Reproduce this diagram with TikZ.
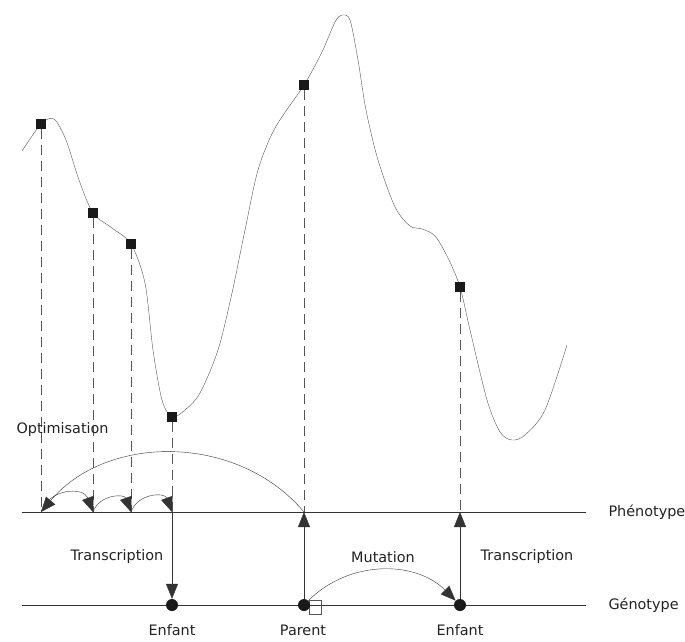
\documentclass[tikz,border=0pt]{standalone}
\usepackage{fontspec}
\setmainfont{DejaVu Sans}
\usetikzlibrary{arrows.meta}
\definecolor{courbe-grey}{HTML}{555555}
\definecolor{trait-grey}{HTML}{333333}
\definecolor{texte-grey}{HTML}{222222}

\begin{document}
\begin{tikzpicture}[x=1pt,y=-1pt,
  marque/.style={fill=black!90,inner sep=0pt,minimum size=10pt},
  point/.style={circle,fill=black!90,inner sep=0pt,minimum size=12pt},
  lbl/.style={texte-grey,font=\fontsize{14.4}{17}\selectfont},
  fleche/.style={-{Triangle[length=15pt,width=12pt]},trait-grey},
  pointille/.style={courbe-grey,dash pattern=on 10pt off 6pt}]
  \useasboundingbox (0,0) rectangle (685,641);
  \draw[courbe-grey] plot[smooth] coordinates {(22,151) (41,124) (54,119) (66,140) (79,180) (93,213) (112,228) (131,244) (145,283) (153,350) (162,400) (172,417) (185,410) (200,393) (218,350) (232,293) (245,230) (258,170) (275,128) (304,85) (322,52) (335,22) (342,15) (350,20) (358,60) (366,110) (378,160) (395,207) (410,226) (422,229) (435,236) (448,258) (460,287) (470,330) (487,400) (500,432) (512,440) (525,435) (545,410) (567,345)};
  \draw[trait-grey] (22,512) -- (586,512);
  \draw[trait-grey] (22,605) -- (586,605);
  \coordinate (p1) at (41,512);
  \coordinate (p2) at (93,512);
  \coordinate (p3) at (131,512);
  \coordinate (p4) at (172,512);
  \coordinate (p5) at (304,512);
  \coordinate (p6) at (460,512);
  \node[marque] (m1) at (41,124) {};
  \node[marque] (m2) at (93,213) {};
  \node[marque] (m3) at (131,244) {};
  \node[marque] (m4) at (172,417) {};
  \node[marque] (m5) at (304,85) {};
  \node[marque] (m6) at (460,287) {};
  \foreach \i in {1,...,6}
    \draw[pointille] (m\i.south) -- (p\i);
  \draw[courbe-grey] (309,600) rectangle (321,614);
  \node[point] (gl) at (172,605) {};
  \node[point] (gp) at (304,605) {};
  \node[point] (gr) at (460,605) {};
  \draw[fleche] (p5) to[bend right=50] (p1);
  \draw[fleche] (p1) to[bend left=70,looseness=1.3] (p2);
  \draw[fleche] (p2) to[bend left=70,looseness=1.3] (p3);
  \draw[fleche] (p3) to[bend left=70,looseness=1.3] (p4);
  \draw[fleche] (p4) -- (gl);
  \draw[fleche] (gp) -- (p5);
  \draw[fleche] (gr) -- (p6);
  \draw[fleche] (gp) to[bend left=45] (gr);
  \node[lbl,anchor=west] at (13,430) {Optimisation};
  \node[lbl] at (117,557) {Transcription};
  \node[lbl] at (383,557) {Mutation};
  \node[lbl] at (527,557) {Transcription};
  \node[lbl,anchor=west] at (605,512) {Phénotype};
  \node[lbl,anchor=west] at (605,605) {Génotype};
  \node[lbl] at (172,630) {Enfant};
  \node[lbl] at (303,630) {Parent};
  \node[lbl] at (460,630) {Enfant};
\end{tikzpicture}
\end{document}
